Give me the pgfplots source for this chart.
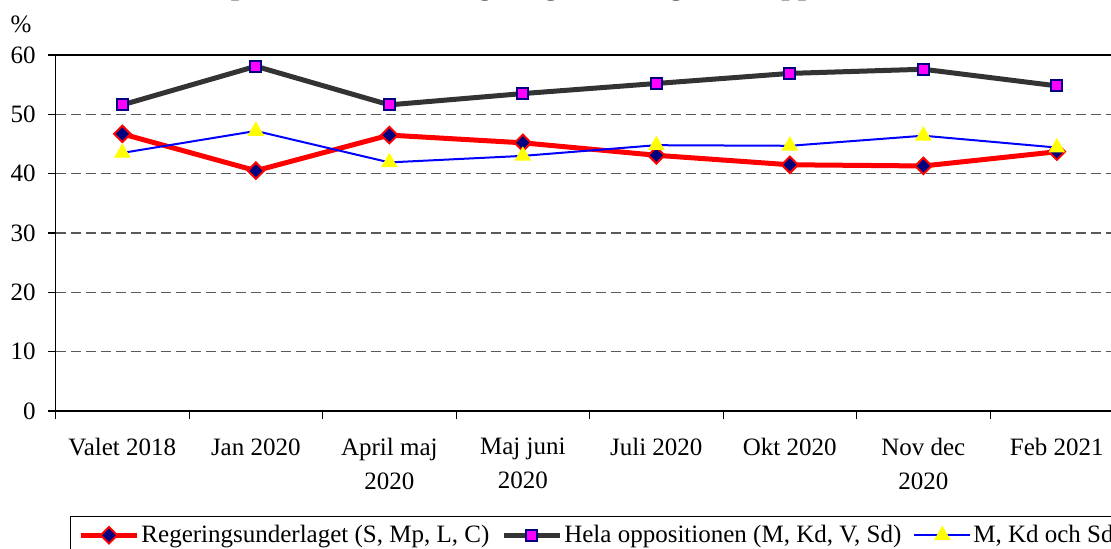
\documentclass[border=0pt]{standalone}
\usepackage{fontspec}
\setmainfont{Liberation Serif}
\usepackage{pgfplots}
\pgfplotsset{compat=1.18}
\definecolor{navyc}{HTML}{000080}
\definecolor{darkline}{HTML}{333333}
\definecolor{magc}{HTML}{FF00FF}
\definecolor{yelc}{HTML}{FFFF00}
\definecolor{bluec}{HTML}{0000FF}
\newcommand{\lblfont}{\fontsize{12.5pt}{17pt}\selectfont}
\begin{document}
\begin{tikzpicture}
\path[use as bounding box, clip] (-27.8pt,-68.5pt) rectangle (527.7pt,205.5pt);
\begin{axis}[
  at={(0pt,0pt)}, anchor=south west,
  scale only axis, width=534pt, height=178pt,
  xmin=-0.5, xmax=7.5, ymin=0, ymax=60,
  ytick={0,10,...,60},
  xtick={-0.5,0.5,1.5,2.5,3.5,4.5,5.5,6.5,7.5},
  xticklabels={Valet 2018, Jan 2020, April maj\\2020, Maj juni\\2020, Juli 2020, Okt 2020, Nov dec\\2020, Feb 2021},
  tick pos=left, tick align=outside, major tick length=4pt,
  tick style={black, line width=0.6pt},
  axis line style={black, line width=0.6pt},
  ymajorgrids,
  grid style={black!65, line width=0.7pt, dash pattern=on 5pt off 2.5pt},
  /pgf/number format/assume math mode=true,
  every tick label/.append style={font=\lblfont},
  yticklabel style={anchor=east, inner sep=0pt, xshift=-5.8pt},
  xticklabel style={anchor=north, inner sep=0pt, align=center, xshift=33.35pt, yshift=-9.5pt},
  legend columns=3,
  legend cell align=left,
  legend image code/.code={\draw[mark repeat=2, mark phase=2, #1] plot coordinates {(0pt,0pt) (14pt,0pt) (28pt,0pt)};},
  legend style={at={(axis description cs:0.01348,-0.2949)}, anchor=north west,
    draw=black, line width=0.5pt, fill=white, font=\lblfont,
    inner xsep=4pt, inner ysep=2.3pt,
    nodes={inner xsep=1pt, inner ysep=2pt, text depth=0.15em},
    /tikz/every even column/.append style={column sep=5pt}},
]
\addplot[color=red, line width=2.5pt, mark=square*, mark size=2.9pt,
  mark options={rotate=45, fill=navyc, draw=red, line width=1pt, solid}]
  coordinates {(0,46.7) (1,40.5) (2,46.5) (3,45.2) (4,43.1) (5,41.5) (6,41.3) (7,43.7)};
\addlegendentry{Regeringsunderlaget (S, Mp, L, C)}
\addplot[color=darkline, line width=2.5pt, mark=square*, mark size=2.75pt,
  mark options={fill=magc, draw=navyc, line width=1pt, solid}]
  coordinates {(0,51.6) (1,58.1) (2,51.6) (3,53.5) (4,55.2) (5,56.9) (6,57.6) (7,54.8)};
\addlegendentry{Hela oppositionen (M, Kd, V, Sd)}
\addplot[color=bluec, line width=1pt, mark=triangle*, mark size=4.3pt,
  mark options={fill=yelc, draw=yelc, line width=0.5pt, solid}]
  coordinates {(0,43.5) (1,47.2) (2,41.9) (3,43.0) (4,44.8) (5,44.7) (6,46.4) (7,44.4)};
\addlegendentry{M, Kd och Sd}
\end{axis}
\node[anchor=base, font=\lblfont] at (-17.3pt,189.5pt) {\%};
\node[anchor=base, font=\bfseries\fontsize{14.85pt}{18pt}\selectfont] at (256.2pt,208.2pt) {Opinionsstödet för regeringsunderlaget och oppositionen};
\end{tikzpicture}
\end{document}
